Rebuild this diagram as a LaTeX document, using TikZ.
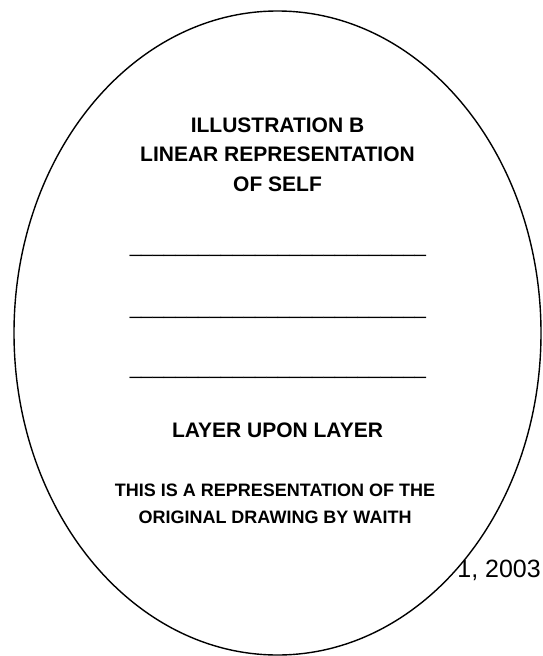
\documentclass[tikz,border=0pt]{standalone}
\usepackage{fontspec}
\usetikzlibrary{shapes.geometric}
\setmainfont{Liberation Sans}
\begin{document}
\begin{tikzpicture}[x=1pt,y=-1pt,
  titletext/.style={font=\fontsize{21}{25}\selectfont\bfseries, anchor=base, inner sep=0pt},
  smalltext/.style={font=\fontsize{18}{22}\selectfont\bfseries, anchor=base, inner sep=0pt},
  ruletext/.style={font=\fontsize{20.5}{24}\selectfont, anchor=base, inner sep=0pt},
  datetext/.style={font=\fontsize{25}{30}\selectfont, anchor=base east, inner sep=0pt},
  oval/.style={draw=black, fill=white, line width=1.4pt}]
\useasboundingbox (0,0) rectangle (542,656);
\node[datetext] (date) at (541,577) {1, 2003};
\node[oval, ellipse, minimum width=527pt, minimum height=644pt, inner sep=0pt] (self) at (277.5,333) {};
\node[titletext] (t1) at (277.5,132) {ILLUSTRATION B};
\node[titletext] (t2) at (277.5,161.5) {LINEAR REPRESENTATION};
\node[titletext] (t3) at (277.5,191) {OF SELF};
\node[ruletext] (l1) at (278,252) {\_\_\_\_\_\_\_\_\_\_\_\_\_\_\_\_\_\_\_\_\_\_\_\_\_\_};
\node[ruletext] (l2) at (278,314) {\_\_\_\_\_\_\_\_\_\_\_\_\_\_\_\_\_\_\_\_\_\_\_\_\_\_};
\node[ruletext] (l3) at (278,374) {\_\_\_\_\_\_\_\_\_\_\_\_\_\_\_\_\_\_\_\_\_\_\_\_\_\_};
\node[titletext] (layer) at (277.5,437) {LAYER UPON LAYER};
\node[smalltext] (n1) at (275,496) {THIS IS A REPRESENTATION OF THE};
\node[smalltext] (n2) at (275,523) {ORIGINAL DRAWING BY WAITH};
\end{tikzpicture}
\end{document}
